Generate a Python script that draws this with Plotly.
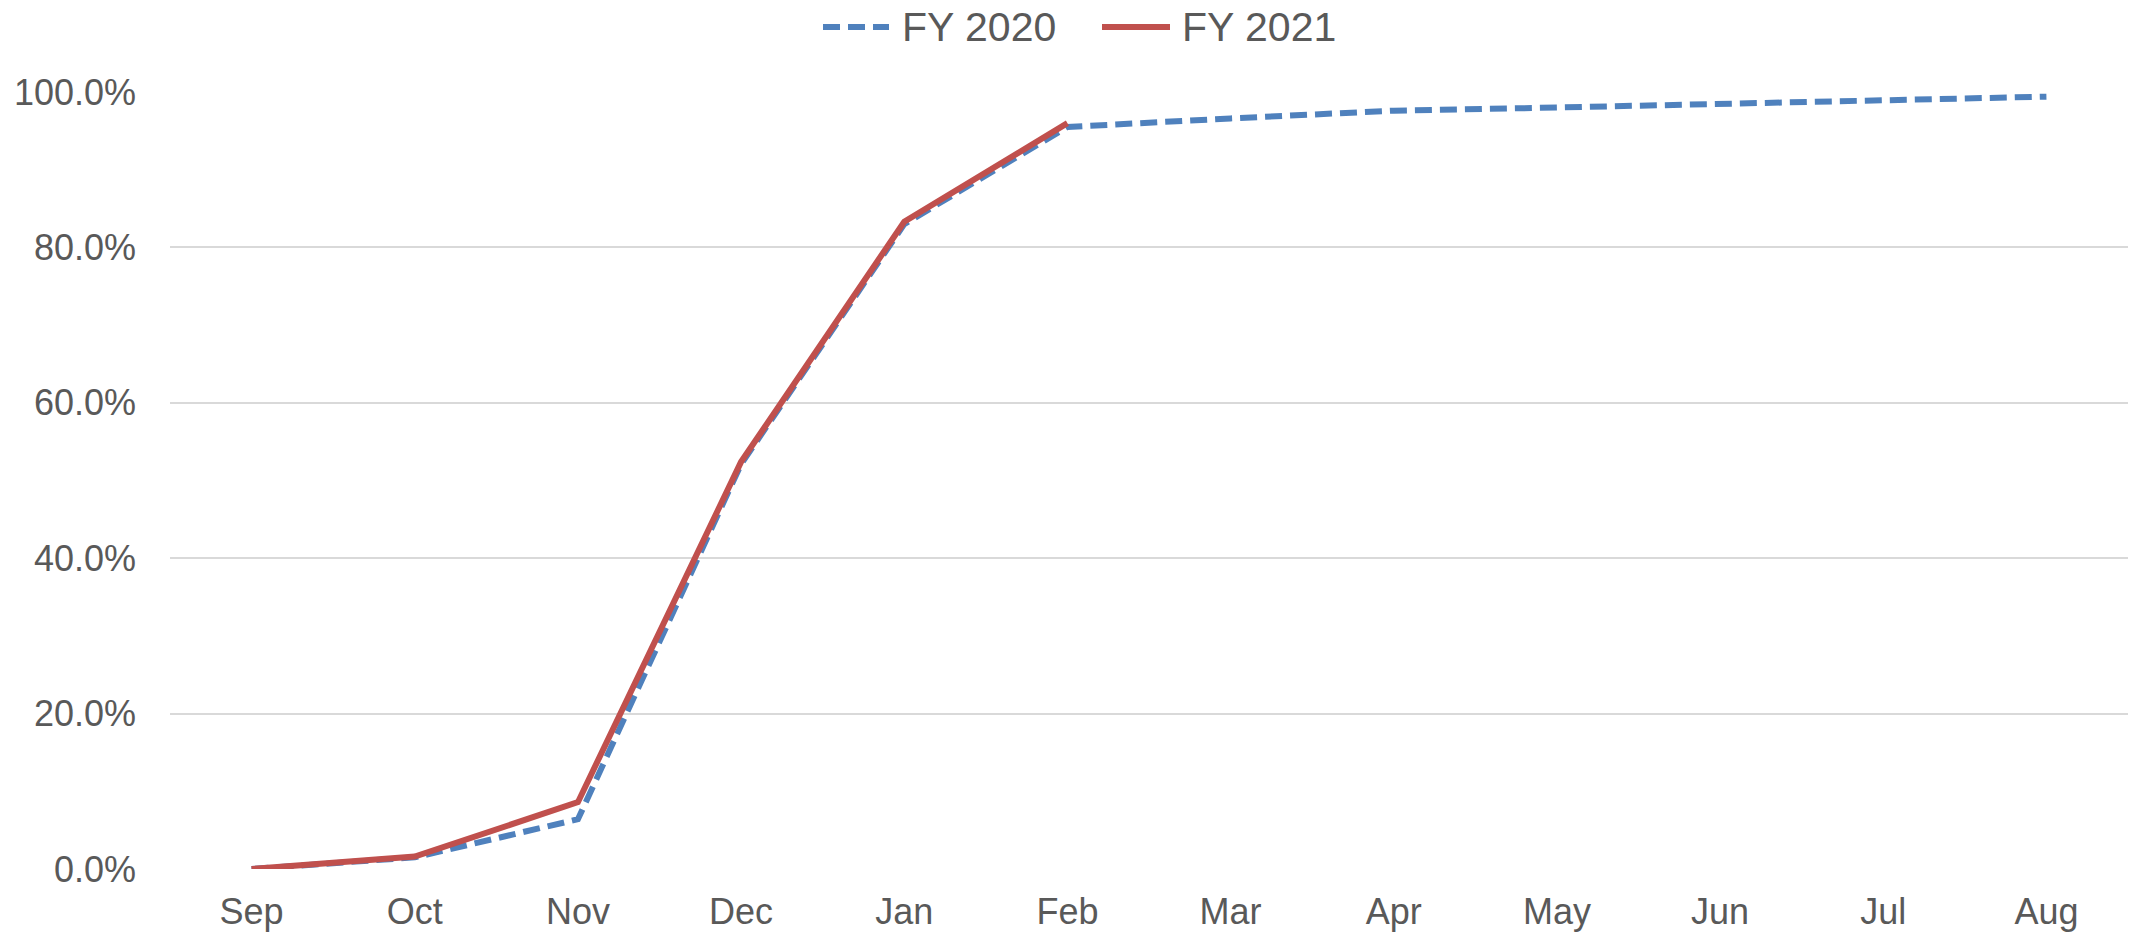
import plotly.graph_objects as go

months = ["Sep", "Oct", "Nov", "Dec", "Jan", "Feb", "Mar", "Apr", "May", "Jun", "Jul", "Aug"]
fy2020 = [0.000, 0.015, 0.064, 0.521, 0.830, 0.955, 0.966, 0.976, 0.980, 0.985, 0.990, 0.994]
fy2021 = [0.000, 0.016, 0.086, 0.524, 0.833, 0.960]
y_ticks = [0, 0.2, 0.4, 0.6, 0.8, 1.0]

W, H = 2129, 933
ML, MR, MT, MB = 170, 1, 92, 64
PW, PH = W - ML - MR, H - MT - MB

BLUE, RED, TXT = "#4F81BD", "#C0504D", "#595959"
DASH = "17px,8px"

fig = go.Figure()
fig.add_trace(go.Scatter(
    x=months, y=fy2020, name="FY 2020", mode="lines",
    line=dict(color=BLUE, width=6, dash=DASH), cliponaxis=False))
fig.add_trace(go.Scatter(
    x=months[:len(fy2021)], y=fy2021, name="FY 2021", mode="lines",
    line=dict(color=RED, width=6), cliponaxis=False))


def px_x(v):
    return (v - ML) / PW


def px_y(v):
    return (H - MB - v) / PH


# legend drawn at the top centre (pixel layout in figure coordinates)
leg_y = 27
legend_items = [("FY 2020", BLUE, DASH, 823, 889, 900),
                ("FY 2021", RED, "solid", 1102, 1170, 1180)]
for label, color, dash, x0, x1, tx in legend_items:
    fig.add_shape(type="line", xref="paper", yref="paper",
                  x0=px_x(x0), x1=px_x(x1), y0=px_y(leg_y), y1=px_y(leg_y),
                  line=dict(color=color, width=6, dash=dash))
    fig.add_annotation(xref="paper", yref="paper", x=px_x(tx), y=px_y(leg_y),
                       xanchor="left", yanchor="middle", text=label, showarrow=False,
                       font=dict(size=41, color=TXT))

fig.update_layout(
    width=W, height=H,
    margin=dict(l=ML, r=MR, t=MT, b=MB),
    paper_bgcolor="white", plot_bgcolor="white",
    font=dict(family="Liberation Sans, Arial, sans-serif", color=TXT, size=36),
    showlegend=False,
    xaxis=dict(type="category", categoryorder="array", categoryarray=months,
               range=[-0.5, 11.5], showgrid=False, showline=False, zeroline=False,
               ticks="", tickfont=dict(size=36, color=TXT),
               automargin=False, ticklabelstandoff=18),
    yaxis=dict(range=[0, 1.0], tickvals=y_ticks, tickformat=".1%",
               showgrid=True, gridcolor="#D9D9D9", gridwidth=2,
               zeroline=False, showline=False, ticks="",
               tickfont=dict(size=36, color=TXT),
               automargin=False, ticklabelstandoff=33),
)

fig.write_html("out.html", config={"displayModeBar": False},
               post_script="document.body.style.margin='0';")
